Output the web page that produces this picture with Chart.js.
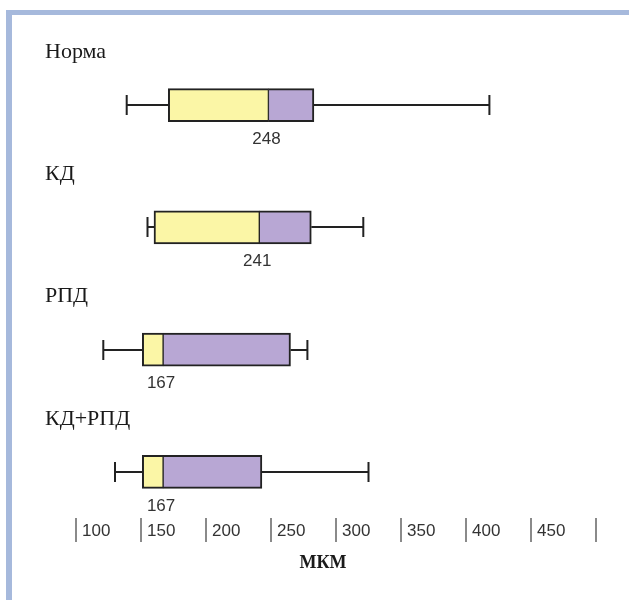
<!DOCTYPE html>
<html>
<head>
<meta charset="utf-8">
<script src="https://cdn.jsdelivr.net/npm/chart.js@4.4.0/dist/chart.umd.min.js"></script>
<style>
  html, body { margin: 0; padding: 0; background: #fff; }
  #wrap { position: relative; width: 629px; height: 600px; overflow: hidden; }
  #frame {
    position: absolute; left: 6px; top: 10px; width: 640px; height: 600px;
    border-top: 5px solid #a6b9dc; border-left: 6px solid #a6b9dc;
  }
  canvas { position: absolute; left: 0; top: 0; }
</style>
</head>
<body>
<div id="wrap">
  <div id="frame"></div>
  <canvas id="box" width="629" height="600"></canvas>
</div>
<script>
    "use strict";

    // data (мкм)
    var groups = ["Норма", "КД", "РПД", "КД+РПД"];
    var mins = [139, 155, 121, 130];
    var q1 = [171, 160, 151, 151];
    var medians = [248, 241, 167, 167];
    var q3 = [283, 281, 265, 243];
    var maxs = [418, 321, 278, 325];
    var tickValues = [100, 150, 200, 250, 300, 350, 400, 450, 500];
    var unitLabel = "МКМ";

    var lowerPart = groups.map(function (g, i) { return [q1[i], medians[i]]; });
    var upperPart = groups.map(function (g, i) { return [medians[i], q3[i]]; });

    // whiskers, group titles, median values and the "| 100" axis
    var boxExtras = {
        id: "boxExtras",
        beforeDatasetsDraw: function (chart) {
            var ctx = chart.ctx, x = chart.scales.x, y = chart.scales.y;
            ctx.save();
            ctx.strokeStyle = "#222";
            ctx.lineWidth = 2;
            groups.forEach(function (g, i) {
                var cy = Math.round(y.getPixelForValue(i));
                var xa = x.getPixelForValue(mins[i]), xb = x.getPixelForValue(maxs[i]);
                ctx.beginPath();
                ctx.moveTo(xa, cy); ctx.lineTo(x.getPixelForValue(q1[i]), cy);
                ctx.moveTo(x.getPixelForValue(q3[i]), cy); ctx.lineTo(xb, cy);
                ctx.moveTo(xa, cy - 10); ctx.lineTo(xa, cy + 10);
                ctx.moveTo(xb, cy - 10); ctx.lineTo(xb, cy + 10);
                ctx.stroke();
            });
            ctx.restore();
        },
        afterDraw: function (chart) {
            var ctx = chart.ctx, x = chart.scales.x, y = chart.scales.y;
            var area = chart.chartArea;
            ctx.save();
            ctx.textBaseline = "middle";

            groups.forEach(function (g, i) {
                var cy = y.getPixelForValue(i);
                ctx.fillStyle = "#1a1a1a";
                ctx.font = "22px 'Liberation Serif', 'Times New Roman', serif";
                ctx.textAlign = "left";
                ctx.fillText(g, 45, cy - 53);

                ctx.fillStyle = "#333";
                ctx.font = "17px 'Liberation Sans', Arial, sans-serif";
                ctx.textAlign = "center";
                ctx.fillText(String(medians[i]), x.getPixelForValue(medians[i]) - 2, cy + 34);
            });

            // axis: short bar at each value, number just right of it
            ctx.font = "17px 'Liberation Sans', Arial, sans-serif";
            ctx.textAlign = "left";
            tickValues.forEach(function (v, i) {
                var px = Math.round(x.getPixelForValue(v));
                ctx.strokeStyle = "#8a8a8a";
                ctx.lineWidth = 2;
                ctx.beginPath();
                ctx.moveTo(px, area.bottom - 15);
                ctx.lineTo(px, area.bottom + 9);
                ctx.stroke();
                if (i < tickValues.length - 1) {
                    ctx.fillStyle = "#333";
                    ctx.fillText(String(v), px + 6, area.bottom - 2);
                }
            });

            ctx.fillStyle = "#1a1a1a";
            ctx.font = "bold 18px 'Liberation Serif', 'Times New Roman', serif";
            ctx.textAlign = "center";
            ctx.fillText(unitLabel, 323, area.bottom + 30);
            ctx.restore();
        }
    };

    var ctx = document.getElementById("box").getContext("2d");
    var boxChart = new Chart(ctx, {
        type: "bar",
        data: {
            labels: groups,
            datasets: [{
                label: "Q1–медиана",
                data: lowerPart,
                backgroundColor: "#fbf6a6",
                borderColor: "#222",
                borderWidth: { top: 2, bottom: 2, left: 2, right: 1 },
                borderSkipped: false,
                barThickness: 33,
                grouped: false
            },
            {
                label: "медиана–Q3",
                data: upperPart,
                backgroundColor: "#b8a7d4",
                borderColor: "#222",
                borderWidth: { top: 2, bottom: 2, left: 1, right: 2 },
                borderSkipped: false,
                barThickness: 33,
                grouped: false
            }]
        },
        options: {
            indexAxis: "y",
            responsive: false,
            animation: false,
            devicePixelRatio: 1,
            layout: { padding: { left: 76, right: 33, top: 44, bottom: 67 } },
            plugins: { legend: { display: false }, tooltip: { enabled: false } },
            scales: {
                x: {
                    type: "linear", min: 100, max: 500, display: false,
                    ticks: { stepSize: 50 }
                },
                y: { display: false, offset: true }
            }
        },
        plugins: [boxExtras]
    });
</script>
</body>
</html>
